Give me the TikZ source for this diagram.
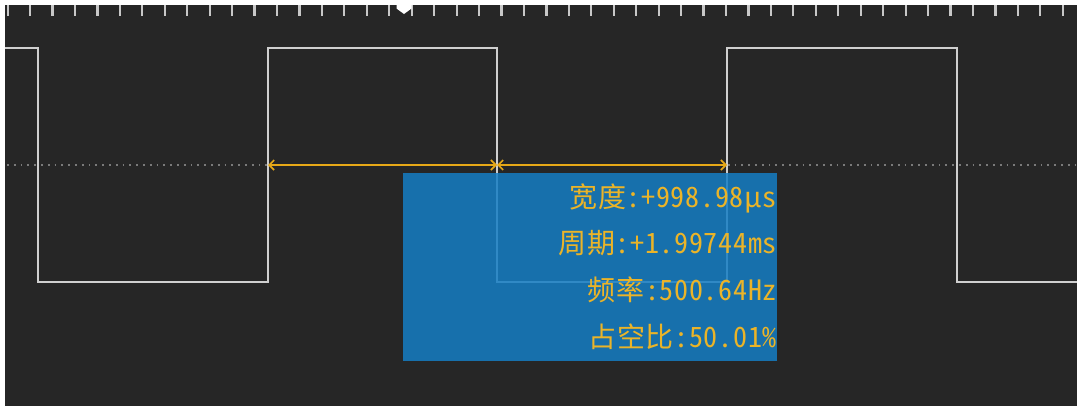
\documentclass[tikz,border=0pt]{standalone}
\usepackage{fontspec}
\newfontfamily\cjk[RawFeature=+hwid,LetterSpace=2.5]{Noto Sans CJK SC}
\usetikzlibrary{arrows.meta}
\definecolor{bg}{HTML}{262626}
\definecolor{wave}{HTML}{CFCFCF}
\definecolor{tickc}{HTML}{C8C8C8}
\definecolor{dotc}{HTML}{7A7A7A}
\definecolor{meas}{HTML}{E6A817}
\definecolor{boxblue}{HTML}{157DC4}
\definecolor{txt}{HTML}{EBB428}
\tikzset{
  wavestyle/.style={draw=wave, line width=2pt, line join=miter},
  tickstyle/.style={draw=tickc, line width=2.2pt},
  dotline/.style={draw=dotc, line width=1.8pt, dash pattern=on 1.8pt off 5pt},
  measline/.style={draw=meas, line width=2pt, {Straight Barb[length=5pt,width=10pt,line width=1.6pt]}-{Straight Barb[length=5pt,width=10pt,line width=1.6pt]}},
  readout/.style={anchor=base east, inner sep=0pt, text=txt, font=\cjk\fontsize{28}{30}\selectfont},
  panel/.style={fill=boxblue, fill opacity=0.85, draw=none}
}
\begin{document}
\begin{tikzpicture}[x=1pt,y=-1pt]
\useasboundingbox (0,0) rectangle (1077,405);
\fill[white] (0,0) rectangle (1077,405);
\fill[bg] (5,5) rectangle (1080,408);
% ruler ticks
\foreach \k in {0,...,47} {
  \draw[tickstyle] ({7.6+22.45*\k},5) -- ({7.6+22.45*\k},15.5);
}
% trigger marker
\fill[white] (396.5,5) -- (411.5,5) -- (411.5,8.5) -- (404,14) -- (396.5,8.5) -- cycle;
% dotted centre line
\draw[dotline] (7,165) -- (1077,165);
% waveform
\draw[wavestyle] (5,48) -- (38,48) -- (38,282) -- (268,282) -- (268,48) -- (497,48) -- (497,282) -- (727,282) -- (727,48) -- (957,48) -- (957,282) -- (1080,282);
% measurement markers
\coordinate (m1) at (268,165);
\coordinate (m2) at (497,165);
\coordinate (m3) at (727,165);
\draw[measline] (m1) -- (m2);
\draw[measline] (m2) -- (m3);
% readout panel
\fill[panel] (403,173) rectangle (777,361);
\node[readout] (w) at (777,207) {宽度:+998.98µs};
\node[readout] (p) at (777,253) {周期:+1.99744ms};
\node[readout] (f) at (777,300) {频率:500.64Hz};
\node[readout] (d) at (777,347) {占空比:50.01\%};
\end{tikzpicture}
\end{document}
